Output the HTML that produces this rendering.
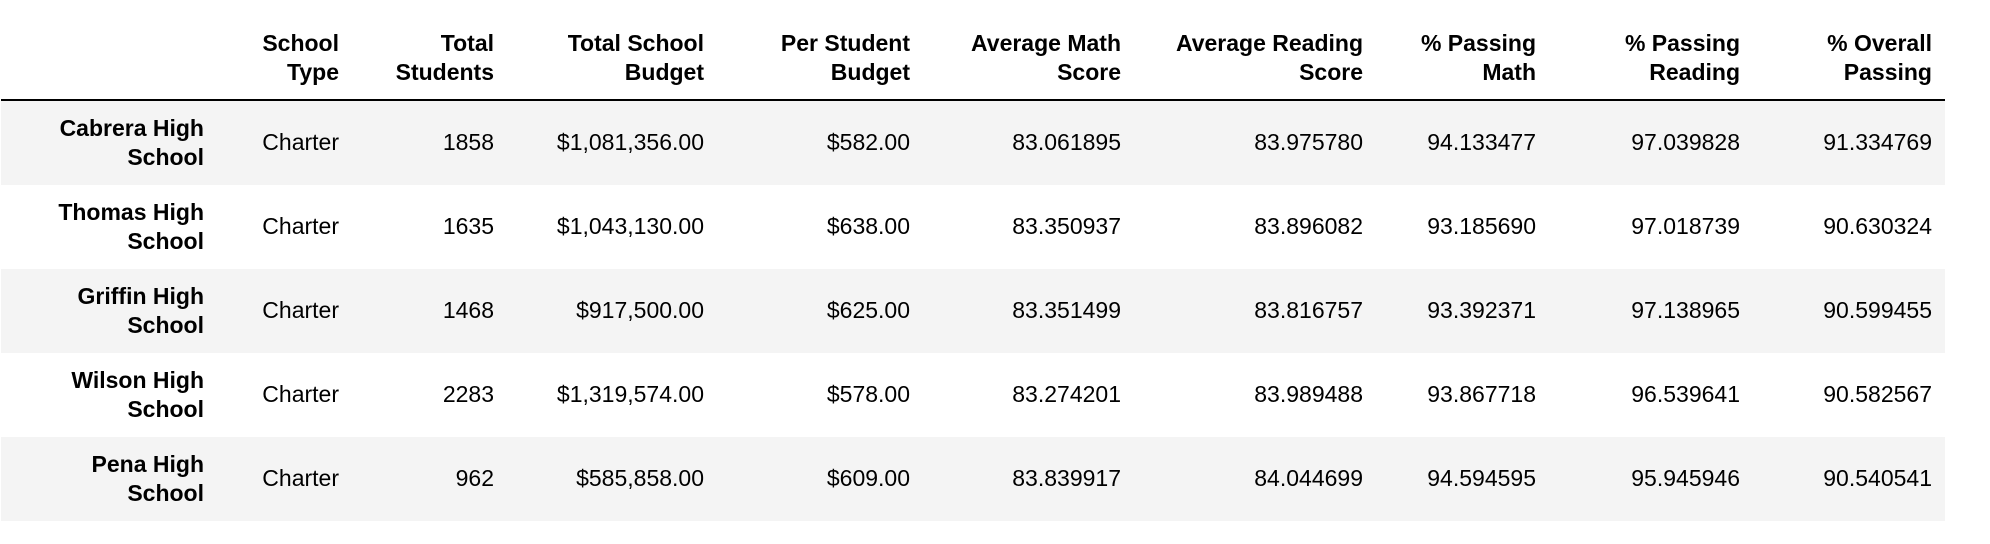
<!DOCTYPE html>
<html><head><meta charset="utf-8"><style>
html,body{margin:0;padding:0;background:#fff;width:1990px;height:544px;overflow:hidden;}
body{font-family:"Liberation Sans",Arial,sans-serif;font-size:23px;color:#000;position:relative;}
.band{position:absolute;left:1px;width:1944px;height:84px;}
.cell{position:absolute;text-align:right;white-space:nowrap;line-height:29px;}
.hd{font-weight:bold;}
#rule{position:absolute;left:1px;top:99px;width:1944px;height:2px;background:#000;}
</style></head><body>
<div id="rule"></div>
<script>
const headers=[["School","Type"],["Total","Students"],["Total School","Budget"],["Per Student","Budget"],["Average Math","Score"],["Average Reading","Score"],["% Passing","Math"],["% Passing","Reading"],["% Overall","Passing"]];
const schools=[["Cabrera High","School"],["Thomas High","School"],["Griffin High","School"],["Wilson High","School"],["Pena High","School"]];
const schoolType=["Charter","Charter","Charter","Charter","Charter"];
const totalStudents=["1858","1635","1468","2283","962"];
const totalBudget=["$1,081,356.00","$1,043,130.00","$917,500.00","$1,319,574.00","$585,858.00"];
const perStudent=["$582.00","$638.00","$625.00","$578.00","$609.00"];
const avgMath=["83.061895","83.350937","83.351499","83.274201","83.839917"];
const avgReading=["83.975780","83.896082","83.816757","83.989488","84.044699"];
const passMath=["94.133477","93.185690","93.392371","93.867718","94.594595"];
const passReading=["97.039828","97.018739","97.138965","96.539641","95.945946"];
const overall=["91.334769","90.630324","90.599455","90.582567","90.540541"];
const cols=[schoolType,totalStudents,totalBudget,perStudent,avgMath,avgReading,passMath,passReading,overall];
const rightEdges=[339,494,704,910,1121,1363,1536,1740,1932];
const indexRight=204, rowTop=101, rowH=84;
function cell(text,right,top,cls){
  const d=document.createElement('div');
  d.className='cell '+(cls||'');
  d.style.right=(1990-right)+'px';
  d.style.top=top+'px';
  d.innerHTML=text;
  document.body.appendChild(d);
  return d;
}
headers.forEach((h,i)=>{
  const d=cell(h.join('<br>'),rightEdges[i],29,'hd');
  
  
});
schools.forEach((s,r)=>{
  const top=rowTop+r*rowH;
  const b=document.createElement('div');
  b.className='band';
  b.style.top=top+'px';
  b.style.background=(r%2===0)?'#f4f4f4':'#fff';
  
  
  document.body.insertBefore(b,document.body.firstChild);
  const idx=cell(s.join('<br>'),indexRight,top+13,'hd');
  
  
  cols.forEach((c,i)=>{
    const d=cell(c[r],rightEdges[i],top+27);
    
    
  });
});
</script>
</body></html>
